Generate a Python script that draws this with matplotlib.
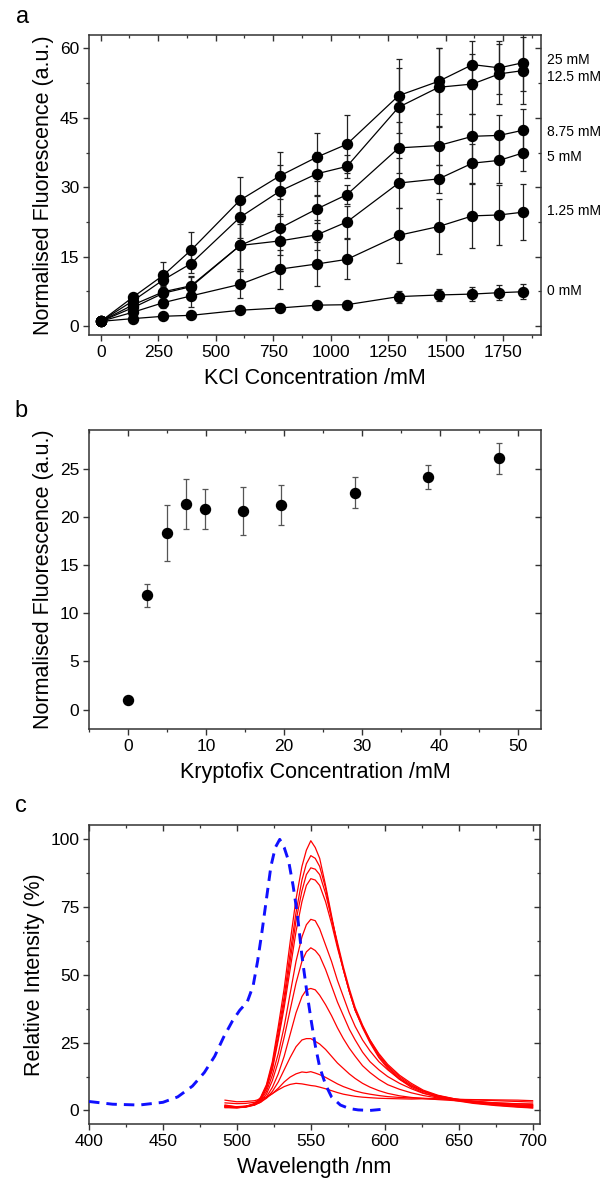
import matplotlib
matplotlib.use("Agg")
import matplotlib.pyplot as plt
from matplotlib.ticker import MultipleLocator, NullFormatter

plt.rcParams['font.family'] = ['Liberation Sans', 'DejaVu Sans']

# ---------------- Panel a data ----------------
kcl = [0, 142, 273, 393, 606, 781, 940, 1071, 1296, 1470, 1617, 1734, 1836]
y_0mM = [1.0, 1.6, 2.1, 2.3, 3.4, 3.9, 4.5, 4.6, 6.35, 6.7, 6.9, 7.2, 7.4]
e_0mM = [0.3, 0.4, 0.5, 0.5, 0.6, 0.8, 0.8, 0.8, 1.3, 1.4, 1.5, 1.6, 1.6]
y_125mM = [1.0, 3.0, 5.05, 6.5, 9.0, 12.3, 13.4, 14.4, 19.6, 21.5, 23.8, 24.0, 24.6]
e_125mM = [0.2, 0.8, 1.2, 2.3, 2.9, 4.2, 4.8, 4.3, 5.9, 5.9, 6.9, 6.5, 6.0]
y_5mM = [1.0, 4.0, 7.1, 8.5, 17.4, 18.4, 19.7, 22.5, 30.9, 31.8, 35.2, 35.8, 37.4]
e_5mM = [0.2, 0.8, 1.5, 2.0, 5.5, 3.0, 3.2, 3.5, 5.5, 3.0, 4.2, 5.0, 4.0]
y_875mM = [1.0, 4.6, 7.4, 8.7, 17.4, 21.2, 25.3, 28.4, 38.5, 39.0, 41.0, 41.2, 42.3]
e_875mM = [0.2, 0.8, 1.5, 2.0, 5.0, 3.0, 3.0, 2.0, 5.5, 4.3, 4.8, 4.5, 4.5]
y_125_mM = [1.0, 5.5, 10.0, 13.5, 23.5, 29.2, 32.9, 34.5, 47.3, 51.6, 52.3, 54.5, 55.2]
e_125_mM = [0.2, 0.8, 1.5, 2.0, 4.5, 5.5, 4.8, 2.5, 8.5, 8.5, 6.5, 6.5, 7.3]
y_25mM = [1.0, 6.3, 11.0, 16.4, 27.2, 32.5, 36.5, 39.3, 49.8, 52.9, 56.5, 55.8, 56.9]
e_25mM = [0.2, 0.5, 2.9, 3.9, 5.1, 5.1, 5.2, 6.2, 8.0, 7.1, 5.2, 5.7, 6.2]
series_labels = ['0 mM', '1.25 mM', '5 mM', '8.75 mM', '12.5 mM', '25 mM']
label_y = [7.6, 24.9, 36.5, 42.0, 53.9, 57.5]

# ---------------- Panel b data ----------------
krypto = [0, 2.5, 5.0, 7.4, 9.9, 14.8, 19.6, 29.1, 38.5, 47.6]
fluo_b = [1.0, 11.86, 18.33, 21.33, 20.8, 20.64, 21.2, 22.5, 24.1, 26.07]
err_b = [0.0, 1.2, 2.9, 2.55, 2.05, 2.5, 2.05, 1.6, 1.25, 1.6]

# ---------------- Panel c data ----------------
abs_wl = [400, 416, 434, 450, 460, 470, 478, 485, 491, 497, 502, 507, 511, 514, 517,
          520, 523, 526, 529, 532, 535, 538, 541, 544, 547, 550, 553, 556, 560, 564,
          570, 576, 582, 590, 600]
abs_int = [3.3, 2.3, 2.0, 3.0, 5.0, 9.0, 14.0, 20.0, 27.0, 33.0, 37.0, 40.0, 46.0, 55.0, 66.0,
           78.0, 90.0, 97.0, 100.0, 97.0, 92.0, 83.0, 72.0, 57.0, 45.0, 34.0, 24.0, 16.0, 9.5, 5.0,
           2.0, 0.7, 0.2, 0.0, 0.5]

em_wl = [492, 500, 506, 512, 516, 520, 524, 528, 532, 536, 540, 544, 547, 550, 553, 556,
         560, 564, 568, 572, 576, 580, 585, 590, 596, 602, 610, 618, 626, 636, 648, 660,
         675, 690, 700]
em_1 = [1.8, 1.2, 1.5, 2.6, 4.8, 9.5, 18, 31, 45, 62, 78, 90, 96, 99.5, 97, 93, 83, 72, 61,
        52, 44, 37, 30.5, 25, 19.5, 15.5, 11.5, 8.5, 6.5, 4.8, 3.6, 2.6, 1.8, 1.2, 0.9]
em_2 = [1.2, 1.0, 1.4, 2.4, 4.5, 9, 17, 29, 42, 58, 73, 85, 91, 94, 93, 90, 82, 71, 61,
        52, 44, 37, 31, 25.5, 20, 16, 12, 9, 7, 5.2, 3.8, 2.8, 2.0, 1.4, 1.0]
em_3 = [1.5, 1.1, 1.4, 2.3, 4.2, 8.5, 16, 27, 40, 55, 70, 81, 87, 89.5, 89, 87, 80, 71, 62,
        53, 45, 38, 31.5, 26, 20.5, 16.5, 12.5, 9.5, 7.2, 5.4, 4.0, 3.0, 2.2, 1.6, 1.3]
em_4 = [1.0, 1.0, 1.3, 2.2, 4.0, 8, 15, 26, 38, 52, 66, 77, 83, 85.5, 85, 83, 77, 69, 60,
        52, 44, 37, 31, 26, 21, 17, 13, 10, 7.5, 5.6, 4.2, 3.2, 2.4, 1.8, 1.5]
em_5 = [2.0, 1.3, 1.5, 2.2, 3.8, 7, 13, 21, 31, 43, 55, 64, 68.5, 70.5, 70, 67, 61, 55, 48,
        42, 36, 31, 26, 22, 18, 15, 11.5, 9, 7, 5.4, 4.2, 3.4, 2.6, 2.0, 1.8]
em_6 = [1.2, 1.0, 1.2, 2.0, 3.4, 6, 11, 18, 27, 37, 47, 55, 58.5, 60, 59, 57, 52, 46, 40,
        35, 30, 26, 21.5, 18, 15, 12.5, 10, 8, 6.3, 5.0, 4.0, 3.2, 2.6, 2.0, 1.8]
em_7 = [1.5, 1.2, 1.4, 2.0, 3.0, 5, 8.5, 13.5, 20, 28, 36, 42, 44.5, 45, 44.5, 42.5, 39, 35,
        30.5, 26.5, 23, 20, 16.5, 14, 11.5, 9.5, 7.8, 6.5, 5.5, 4.6, 4.0, 3.4, 2.8, 2.4, 2.2]
em_8 = [1.6, 1.4, 1.6, 2.2, 3.0, 4.5, 7, 10.5, 15, 19.5, 23.5, 26, 26.5, 26.5, 25.5, 24.5,
        22.5, 20, 17.5, 15.5, 13.5, 11.8, 10, 8.6, 7.3, 6.3, 5.4, 4.8, 4.4, 4.0, 3.6, 3.2,
        2.8, 2.5, 2.4]
em_9 = [2.8, 2.5, 2.6, 3.0, 3.6, 4.6, 6.2, 8.2, 10.5, 12.3, 13.5, 14.2, 14.0, 14.3, 13.8,
        13.2, 12.2, 11.0, 9.8, 8.8, 8.0, 7.2, 6.5, 6.0, 5.5, 5.1, 4.8, 4.6, 4.5, 4.3, 4.1,
        3.9, 3.6, 3.3, 3.1]
em_10 = [3.8, 3.2, 3.3, 3.6, 4.2, 5.0, 6.2, 7.6, 8.8, 9.6, 10.0, 9.8, 9.5, 9.2, 9.0, 8.6,
         8.0, 7.3, 6.6, 6.0, 5.6, 5.2, 4.9, 4.7, 4.5, 4.4, 4.3, 4.2, 4.3, 4.2, 4.1, 4.0, 3.9,
         3.8, 3.6]

W, H = 611, 1185
fig = plt.figure(figsize=(W / 100, H / 100), dpi=100)


def make_axes(left, top, right, bottom):
    return fig.add_axes([left / W, 1 - bottom / H, (right - left) / W, (bottom - top) / H])


SPINE = '#333333'
TICKFS = 12.5
LABELFS = 15.5


def style(ax, xmaj, xmin, ymaj, ymin):
    for s in ax.spines.values():
        s.set_linewidth(1.1)
        s.set_color(SPINE)
    ax.xaxis.set_major_locator(MultipleLocator(xmaj))
    ax.yaxis.set_major_locator(MultipleLocator(ymaj))
    if xmin:
        ax.xaxis.set_minor_locator(MultipleLocator(xmin))
    if ymin:
        ax.yaxis.set_minor_locator(MultipleLocator(ymin))
    ax.tick_params(which='major', direction='out', length=4.5, width=1.0, color=SPINE,
                   labelsize=TICKFS, pad=2.5, top=False, right=False)
    ax.tick_params(which='minor', direction='out', length=2.5, width=0.9, color=SPINE,
                   top=False, right=False)
    # inward ticks on top and right
    sx = ax.secondary_xaxis('top')
    sx.xaxis.set_major_locator(MultipleLocator(xmaj))
    if xmin:
        sx.xaxis.set_minor_locator(MultipleLocator(xmin))
    sx.tick_params(which='major', direction='in', length=4.5, width=1.0, color=SPINE, labeltop=False)
    sx.tick_params(which='minor', direction='in', length=2.5, width=0.9, color=SPINE, labeltop=False)
    sx.xaxis.set_major_formatter(NullFormatter())
    sx.spines['top'].set_visible(False)
    sy = ax.secondary_yaxis('right')
    sy.yaxis.set_major_locator(MultipleLocator(ymaj))
    if ymin:
        sy.yaxis.set_minor_locator(MultipleLocator(ymin))
    sy.tick_params(which='major', direction='in', length=4.5, width=1.0, color=SPINE, labelright=False)
    sy.tick_params(which='minor', direction='in', length=2.5, width=0.9, color=SPINE, labelright=False)
    sy.yaxis.set_major_formatter(NullFormatter())
    sy.spines['right'].set_visible(False)


# ---------------- Panel a ----------------
axa = make_axes(89, 35, 541, 335)
all_y = [y_0mM, y_125mM, y_5mM, y_875mM, y_125_mM, y_25mM]
all_e = [e_0mM, e_125mM, e_5mM, e_875mM, e_125_mM, e_25mM]
for yv, ev in zip(all_y, all_e):
    axa.errorbar(kcl, yv, yerr=ev, fmt='-o', color='black', ecolor='#222222', elinewidth=0.9,
                 capsize=2.3, capthick=0.9, lw=0.9, ms=7.2, mec='black', mfc='black', zorder=3)
axa.set_xlim(-51, 1915)
axa.set_ylim(-1.95, 62.9)
style(axa, 250, 125, 15, 7.5)
axa.set_xlabel('KCl Concentration /mM', fontsize=LABELFS, labelpad=6)
axa.set_ylabel('Normalised Fluorescence (a.u.)', fontsize=LABELFS, labelpad=4)
for lab, ly in zip(series_labels, label_y):
    axa.text(547 / W, ly, lab, transform=matplotlib.transforms.blended_transform_factory(fig.transFigure, axa.transData),
             fontsize=10, va='center', ha='left')
fig.text(23 / W, 1 - 17 / H, 'a', fontsize=17, ha='center', va='center')

# ---------------- Panel b ----------------
axb = make_axes(89, 430, 541, 729)
axb.errorbar(krypto, fluo_b, yerr=err_b, fmt='o', color='black', ecolor='#555555', elinewidth=0.9,
             capsize=2.3, capthick=0.9, ms=7.2, zorder=3)
axb.set_xlim(-5, 53)
axb.set_ylim(-2, 29)
style(axb, 10, 5, 5, None)
axb.set_xlabel('Kryptofix Concentration /mM', fontsize=LABELFS, labelpad=6)
axb.set_ylabel('Normalised Fluorescence (a.u.)', fontsize=LABELFS, labelpad=4)
fig.text(21 / W, 1 - 411 / H, 'b', fontsize=17, ha='center', va='center')

# ---------------- Panel c ----------------
axc = make_axes(89, 825, 540, 1124)
axc.plot(abs_wl, abs_int, color='#1010ff', lw=2.1, ls=(0, (3.6, 2.4)), zorder=3)
for em in [em_1, em_2, em_3, em_4, em_5, em_6, em_7, em_8, em_9, em_10]:
    axc.plot(em_wl, em, color='#ff0000', lw=0.9, zorder=2)
axc.set_xlim(400, 705)
axc.set_ylim(-5, 105.3)
style(axc, 50, 25, 25, 12.5)
axc.set_xlabel('Wavelength /nm', fontsize=LABELFS, labelpad=6)
axc.set_ylabel('Relative Intensity (%)', fontsize=LABELFS, labelpad=4)
fig.text(21 / W, 1 - 806 / H, 'c', fontsize=17, ha='center', va='center')

fig.savefig('out.png', dpi=100)
